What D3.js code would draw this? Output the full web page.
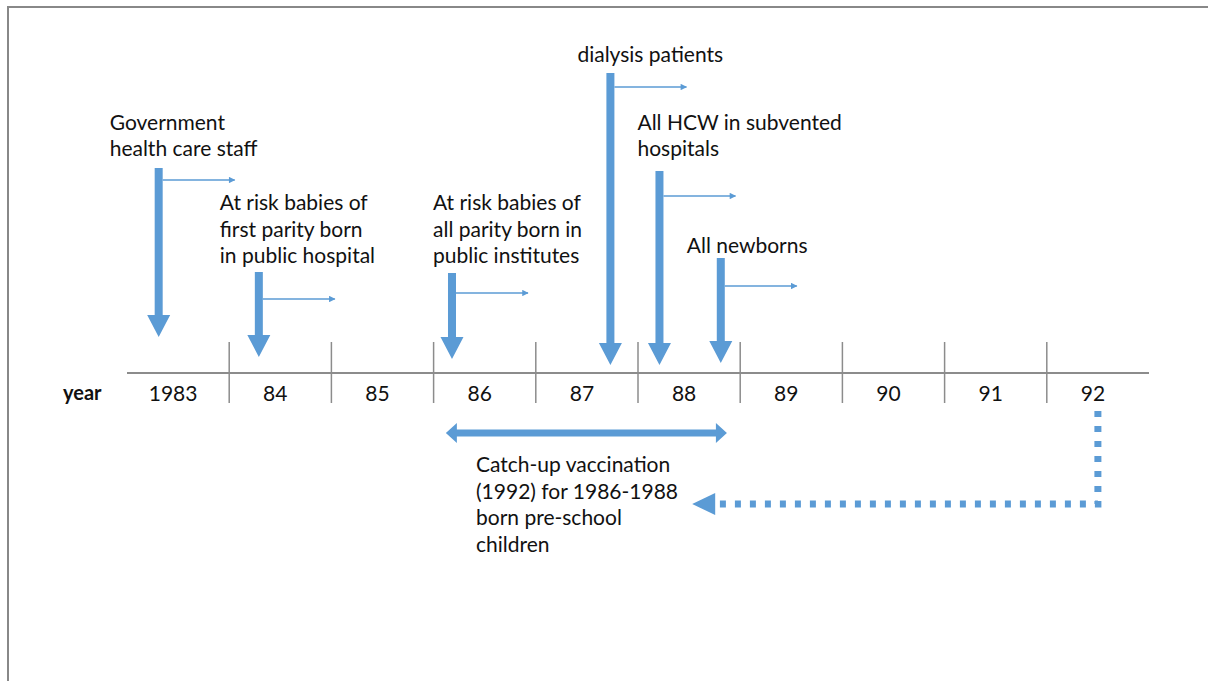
<!DOCTYPE html>
<html>
<head>
<meta charset="utf-8">
<script src="https://cdn.jsdelivr.net/npm/d3@7"></script>
<style>
  body { margin: 0; background: #fff; }
  text { font-family: Lato, "Liberation Sans", sans-serif; fill: #111; }
</style>
</head>
<body>
<svg id="chart"></svg>
<script>
// ---- data ----
const yearLabels = ["1983", "84", "85", "86", "87", "88", "89", "90", "91", "92"];
const firstYear = 1983;

// start of each programme (fractional year on the timeline)
const eventNames = [
    ["Government", "health care staff"],
    ["At risk babies of", "first parity born", "in public hospital"],
    ["At risk babies of", "all parity born in", "public institutes"],
    ["dialysis patients"],
    ["All HCW in subvented", "hospitals"],
    ["All newborns"]
];
const eventTimes = [1983.31, 1984.29, 1986.18, 1987.73, 1988.21, 1988.81];

// catch-up programme
const catchUpCohort = [1986.12, 1988.87];
const catchUpYear = 1992.5;
const catchUpPointTo = 1988.53;
const catchUpText = ["Catch-up vaccination", "(1992) for 1986-1988", "born pre-school", "children"];

// ---- layout ----
const width = 1208, height = 681;
const blue = "#5b9bd5";
const grey = "#8c8c8c";
const axisY = 373;
const lineH = 26.5;

const arrowTop = [168, 272, 273, 73, 171, 258];
const arrowTip = [337, 357, 359, 365, 365, 363];
const sideDy   = [12, 27, 20, 14, 25, 28];
const labelDx  = [-49, -39, -19, -33, -22, -34];
const labelGap = [12, 9, 10, 11, 15, 5];

const svg = d3.select("#chart")
    .attr("width", width)
    .attr("height", height);

svg.append("defs").append("marker")
    .attr("id", "thin")
    .attr("viewBox", "0 0 10 10")
    .attr("refX", 9).attr("refY", 5)
    .attr("markerWidth", 5).attr("markerHeight", 4)
    .attr("markerUnits", "strokeWidth")
    .attr("orient", "auto")
    .append("path")
    .attr("d", "M0,0L10,5L0,10Z")
    .attr("fill", blue);

// frame
svg.append("path")
    .attr("d", `M8,${height + 5}V7H${width + 5}`)
    .attr("fill", "none")
    .attr("stroke", "#888")
    .attr("stroke-width", 2);

const band = d3.scaleBand()
    .domain(yearLabels)
    .range([127, 1149]);

const x = d3.scaleLinear()
    .domain([firstYear, firstYear + yearLabels.length])
    .range([127, 1149]);

// timeline
svg.append("line")
    .attr("x1", x(firstYear)).attr("x2", x(firstYear + yearLabels.length))
    .attr("y1", axisY).attr("y2", axisY)
    .attr("stroke", grey).attr("stroke-width", 2);

svg.selectAll(".divider")
    .data(yearLabels.slice(1))
    .enter().append("line")
    .attr("class", "divider")
    .attr("x1", d => band(d)).attr("x2", d => band(d))
    .attr("y1", 342).attr("y2", 403)
    .attr("stroke", grey).attr("stroke-width", 1.5);

svg.selectAll(".yr")
    .data(yearLabels)
    .enter().append("text")
    .attr("class", "yr")
    .attr("x", d => band(d) + band.bandwidth() / 2 - 5)
    .attr("y", 401)
    .attr("text-anchor", "middle")
    .style("font-size", "21px")
    .text(d => d);

svg.append("text")
    .attr("x", 63).attr("y", 400)
    .style("font-size", "20px")
    .style("font-weight", "bold")
    .text("year");

// programme arrows
const ev = svg.selectAll(".event")
    .data(eventTimes)
    .enter().append("g")
    .attr("class", "event");

ev.append("path")
    .attr("fill", blue)
    .attr("d", (d, i) => {
        const cx = x(d), t = arrowTop[i], tip = arrowTip[i], hs = tip - 22;
        return `M${cx - 4},${t}H${cx + 4}V${hs}H${cx + 11.5}L${cx},${tip}L${cx - 11.5},${hs}H${cx - 4}Z`;
    });

ev.append("line")
    .attr("x1", d => x(d) + 4)
    .attr("x2", d => x(d) + 76)
    .attr("y1", (d, i) => arrowTop[i] + sideDy[i])
    .attr("y2", (d, i) => arrowTop[i] + sideDy[i])
    .attr("stroke", blue)
    .attr("stroke-width", 1.6)
    .attr("marker-end", "url(#thin)");

ev.append("text")
    .attr("x", (d, i) => x(d) + labelDx[i])
    .attr("y", (d, i) => arrowTop[i] - labelGap[i] - (eventNames[i].length - 1) * lineH)
    .style("font-size", "21px")
    .selectAll("tspan")
    .data((d, i) => eventNames[i])
    .enter().append("tspan")
    .attr("x", function() { return this.parentNode.getAttribute("x"); })
    .attr("dy", (d, j) => j === 0 ? 0 : lineH)
    .text(d => d);

// catch-up double arrow
const cy = 433, x1 = x(catchUpCohort[0]), x2 = x(catchUpCohort[1]);
svg.append("path")
    .attr("fill", blue)
    .attr("d", `M${x1},${cy}L${x1 + 11},${cy - 10}V${cy - 3.5}H${x2 - 11}V${cy - 10}L${x2},${cy}` +
               `L${x2 - 11},${cy + 10}V${cy + 3.5}H${x1 + 11}V${cy + 10}Z`);

svg.append("text")
    .attr("x", 476).attr("y", 472)
    .style("font-size", "21px")
    .selectAll("tspan")
    .data(catchUpText)
    .enter().append("tspan")
    .attr("x", 476)
    .attr("dy", (d, j) => j === 0 ? 0 : lineH)
    .text(d => d);

// dotted connector from 1992
const dx = x(catchUpYear), dyLine = 504, tipX = x(catchUpPointTo);
svg.append("path")
    .attr("d", `M${dx},411V${dyLine}H${tipX + 22}`)
    .attr("fill", "none")
    .attr("stroke", blue)
    .attr("stroke-width", 7)
    .attr("stroke-dasharray", "6,9");

svg.append("path")
    .attr("fill", blue)
    .attr("d", `M${tipX},${dyLine}L${tipX + 23},${dyLine - 11}V${dyLine + 11}Z`);
</script>
</body>
</html>
